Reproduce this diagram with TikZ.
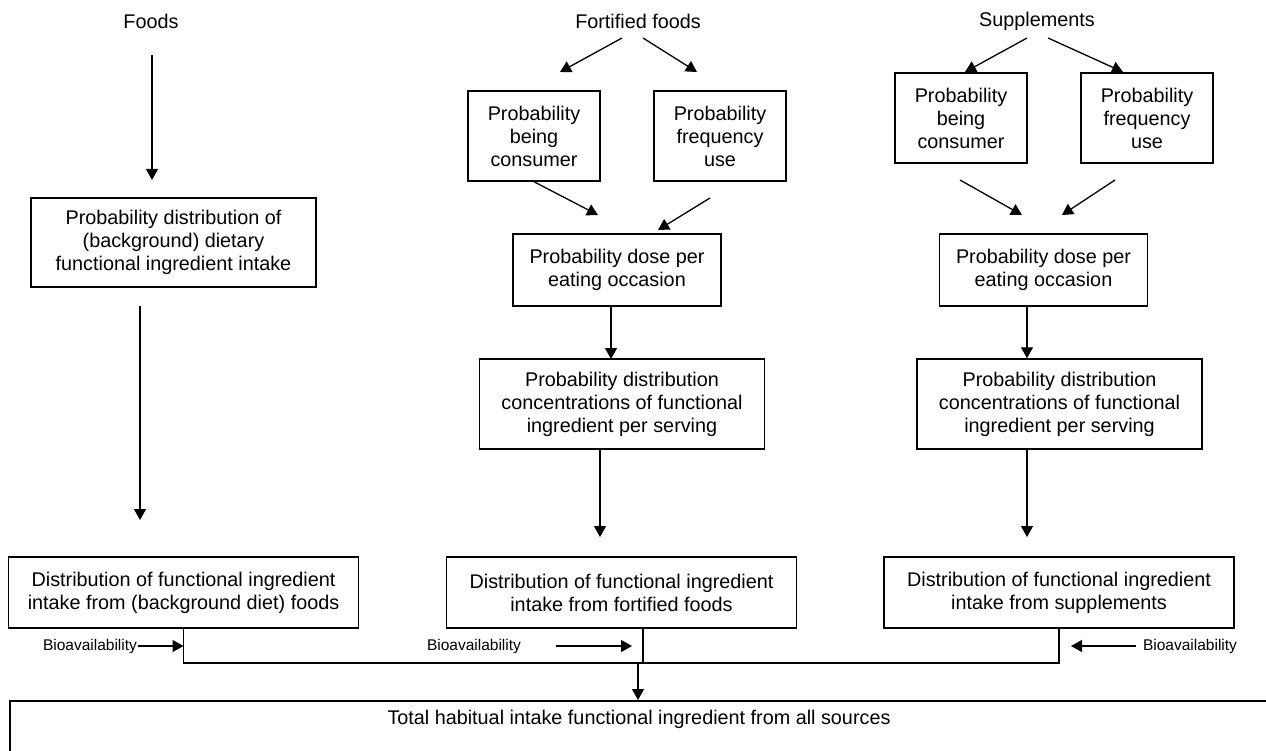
\documentclass[tikz,border=0pt]{standalone}
\usepackage{fontspec}
\setmainfont{Liberation Sans}
\usetikzlibrary{positioning,arrows.meta}

\begin{document}
\begin{tikzpicture}[
  x=1pt, y=-1pt,
  font=\fontsize{19.8}{23}\selectfont,
  >={Triangle[length=11pt,width=12pt]},
  line width=1.3pt,
  head/.style={inner sep=0pt, align=center},
  box/.style={draw, line width=1.5pt, align=center, inner sep=2pt},
  small/.style={box, minimum width=132pt, minimum height=90pt},
  dose/.style={box, minimum width=208pt, minimum height=72pt},
  conc/.style={box, minimum width=285pt, minimum height=90pt},
  dist/.style={box, minimum width=350pt, minimum height=71pt},
  bio/.style={inner sep=0pt, font=\fontsize{15.5}{18}\selectfont},
]
\useasboundingbox (0,0) rectangle (1266,751);
\clip (0,0) rectangle (1266,751);

% ==================== column heads ====================
\node[head] (foods)  at (151,21)  {Foods};
\node[head] (ffoods) at (638,21)  {Fortified foods};
\node[head] (supps)  at (1037,21) {Supplements};

% ==================== FOODS column ====================
\node[box, minimum width=285pt, minimum height=89pt] (bgprob) at (173.5,242.5)
  {Probability distribution of\\(background) dietary\\functional ingredient intake};
\coordinate (fd1) at (152,55);
\coordinate (fd2) at (152,180);
\coordinate (fd3) at (140,306);
\coordinate (fd4) at (140,520);
\draw[->] (fd1) -- (fd2);
\draw[->] (fd3) -- (fd4);

% ==================== FORTIFIED column ====================
\node[small] (fcons) at (534,136) {Probability\\being\\consumer};
\node[small] (ffreq) at (720,136) {Probability\\frequency\\use};
\node[dose]  (fdose) at (617,270) {Probability dose per\\eating occasion};
\node[conc]  (fconc) at (622,404)
  {Probability distribution\\concentrations of functional\\ingredient per serving};
\coordinate (fa1) at (622,38);
\coordinate (fa2) at (560,72);
\coordinate (fb1) at (643,38);
\coordinate (fb2) at (697,72);
\coordinate (fc2) at (598,215);
\coordinate (fe1) at (710,198);
\coordinate (fe2) at (658,230);
\coordinate (ftip1) at (611,359);
\coordinate (ftip2) at (600,537);
\draw[->] (fa1) -- (fa2);
\draw[->] (fb1) -- (fb2);
\draw[->] (fcons.south) -- (fc2);
\draw[->] (fe1) -- (fe2);
\draw[->] (fdose.south -| ftip1) -- (ftip1);
\draw[->] (fconc.south -| ftip2) -- (ftip2);

% ==================== SUPPLEMENTS column ====================
\node[small] (scons) at (961,118)  {Probability\\being\\consumer};
\node[small] (sfreq) at (1147,118) {Probability\\frequency\\use};
\node[dose]  (sdose) at (1043.5,270) {Probability dose per\\eating occasion};
\node[conc]  (sconc) at (1059.5,404)
  {Probability distribution\\concentrations of functional\\ingredient per serving};
\coordinate (sa1) at (1027,38);
\coordinate (sa2) at (965,72);
\coordinate (sb1) at (1048,38);
\coordinate (sb2) at (1123,72);
\coordinate (sc1) at (960,180);
\coordinate (sc2) at (1022,215);
\coordinate (se1) at (1115,180);
\coordinate (se2) at (1062,215);
\coordinate (stip) at (1027,537);
\draw[->] (sa1) -- (sa2);
\draw[->] (sb1) -- (sb2);
\draw[->] (sc1) -- (sc2);
\draw[->] (se1) -- (se2);
\draw[->] (sdose.south -| stip) -- (sconc.north -| stip);
\draw[->] (sconc.south -| stip) -- (stip);

% ==================== intake distributions ====================
\node[dist] (bgdist) at (183.5,592.5)
  {Distribution of functional ingredient\\intake from (background diet) foods};
\node[dist] (fdist) at (621.5,592.5)
  {Distribution of functional ingredient\\intake from fortified foods};
\node[dist] (sdist) at (1059,592.5)
  {Distribution of functional ingredient\\intake from supplements};

% ==================== total intake ====================
\node[draw, line width=2.2pt, anchor=north west, minimum width=1300pt,
      minimum height=120pt] (totalbox) at (9,700) {};
\node[head] (total) at (639,719)
  {Total habitual intake functional ingredient from all sources};

\coordinate (join) at (638,663);
\coordinate (fjoin) at (643,663);
\draw (bgdist.south) |- (join);
\draw (sdist.south) |- (join);
\draw (fdist.south -| fjoin) -- (fjoin);
\draw[->] (join) -- (join |- totalbox.north);

% ==================== bioavailability ====================
\node[bio] (bio1) at (90,646)   {Bioavailability};
\node[bio] (bio2) at (474,646)  {Bioavailability};
\node[bio] (bio3) at (1190,646) {Bioavailability};
\coordinate (b2s) at (556,646);
\coordinate (b2e) at (632,646);
\coordinate (b3s) at (1136,646);
\coordinate (b3e) at (1071,646);
\draw[->] (bio1.east) -- (bio1.east -| bgdist.south);
\draw[->] (b2s) -- (b2e);
\draw[->] (b3s) -- (b3e);

\end{tikzpicture}
\end{document}
